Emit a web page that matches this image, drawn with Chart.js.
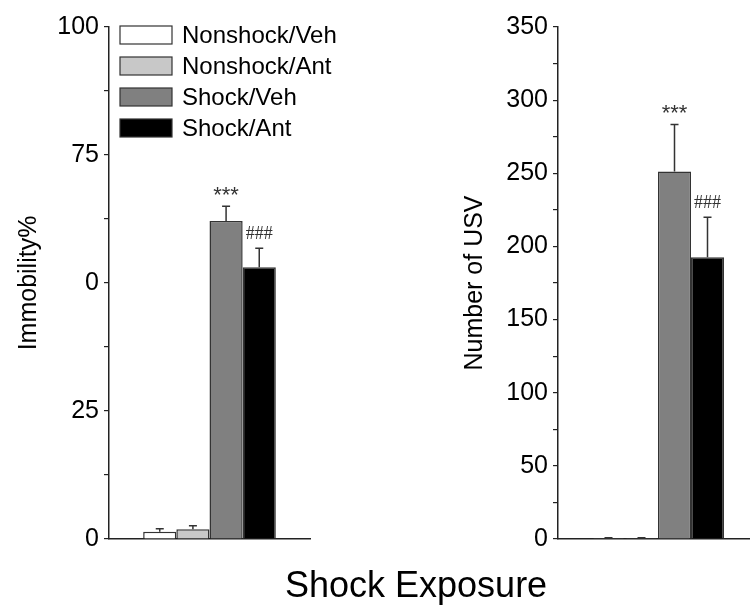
<!DOCTYPE html>
<html>
<head>
<meta charset="utf-8">
<script src="https://cdn.jsdelivr.net/npm/chart.js@4.4.1/dist/chart.umd.min.js"></script>
<style>
  html, body { margin: 0; padding: 0; background: #fff; overflow: hidden; }
  body { width: 750px; height: 611px; position: relative; }
  #leftChart { position: absolute; left: 10px; top: 0; }
  #rightChart { position: absolute; left: 456px; top: 0; }
  #xTitle { position: absolute; left: 285px; top: 567px; font: 36px "Liberation Sans", Arial, sans-serif; line-height: 36px; white-space: nowrap; color: #000; }
</style>
</head>
<body>
<canvas id="leftChart" width="380" height="611"></canvas>
<canvas id="rightChart" width="302" height="611"></canvas>
<div id="xTitle">Shock Exposure</div>
<script>
// groups and values
const groups = ['Nonshock/Veh', 'Nonshock/Ant', 'Shock/Veh', 'Shock/Ant'];
const immobility = [1.4, 1.9, 62.1, 53.1];
const immobilityErr = [0.6, 0.7, 2.9, 3.7];
const usv = [0.5, 0.5, 251.3, 192.6];
const usvErr = [0.3, 0.3, 32.1, 27.3];
const marks = ['', '', '***', '###'];
const leftTickValues = [0, 25, 50, 75, 100];
const leftTickText = ['0', '25', '0', '75', '100'];
const rightTickValues = [0, 50, 100, 150, 200, 250, 300, 350];
const rightTickText = ['0', '50', '100', '150', '200', '250', '300', '350'];

const fills = ['#ffffff', '#c8c8c8', '#808080', '#000000'];
const FONT = '"Liberation Sans", Arial, sans-serif';

function makeDatasets(values, errs) {
    let sets = [];
    for (let i = 0; i < groups.length; i++) {
        sets.push({
            label: groups[i],
            data: [values[i]],
            err: errs[i],
            mark: marks[i],
            backgroundColor: fills[i],
            borderColor: '#333',
            borderWidth: 1.5,
            categoryPercentage: 0.66,
            barPercentage: 1.0
        });
    }
    return sets;
}

// error bars + significance marks
const errorBars = {
    id: 'errorBars',
    afterDatasetsDraw(chart) {
        const c = chart.ctx;
        const yScale = chart.scales.y;
        chart.data.datasets.forEach((ds, i) => {
            const bar = chart.getDatasetMeta(i).data[0];
            const top = yScale.getPixelForValue(ds.data[0] + ds.err);
            c.save();
            c.strokeStyle = '#333';
            c.lineWidth = 1.5;
            c.beginPath();
            c.moveTo(bar.x, bar.y);
            c.lineTo(bar.x, top);
            c.moveTo(bar.x - 4, top);
            c.lineTo(bar.x + 4, top);
            c.stroke();
            if (ds.mark) {
                c.fillStyle = '#333';
                c.textAlign = 'center';
                c.textBaseline = 'bottom';
                c.font = ds.mark === '###' ? '18px "Liberation Serif", serif' : '22px ' + FONT;
                c.fillText(ds.mark, bar.x, ds.mark === '###' ? top - 5 : top + 1);
            }
            c.restore();
        });
    }
};

// legend drawn in the upper left of the plot area
const boxLegend = {
    id: 'boxLegend',
    afterDraw(chart, args, opts) {
        if (!opts.show) return;
        const c = chart.ctx;
        const x0 = chart.chartArea.left + 11;
        const y0 = chart.chartArea.top - 1;
        chart.data.datasets.forEach((ds, i) => {
            const y = y0 + i * 31;
            c.save();
            c.fillStyle = ds.backgroundColor;
            c.fillRect(x0, y, 52, 18);
            c.strokeStyle = '#333';
            c.lineWidth = 1.2;
            c.strokeRect(x0, y, 52, 18);
            c.fillStyle = '#000';
            c.font = '24px ' + FONT;
            c.textBaseline = 'middle';
            c.fillText(ds.label, x0 + 62, y + 10);
            c.restore();
        });
    }
};

function makeChart(id, values, errs, maxV, step, tickValues, tickText, title, yWidth, padRight, showLegend) {
    return new Chart(document.getElementById(id), {
        type: 'bar',
        data: { labels: [''], datasets: makeDatasets(values, errs) },
        options: {
            responsive: false,
            animation: false,
            layout: { padding: { top: 27, bottom: 72, left: 0, right: padRight } },
            plugins: {
                legend: { display: false },
                tooltip: { enabled: false },
                boxLegend: { show: showLegend }
            },
            scales: {
                x: {
                    grid: { display: false },
                    ticks: { display: false },
                    border: { display: true, color: '#222', width: 1.5 },
                    afterFit: s => { s.height = 0; }
                },
                y: {
                    min: 0,
                    max: maxV,
                    afterFit: s => { s.width = yWidth; },
                    ticks: {
                        stepSize: step,
                        color: '#000',
                        padding: 5,
                        font: { family: FONT, size: 25 },
                        callback: v => {
                            const k = tickValues.indexOf(v);
                            return k >= 0 ? tickText[k] : '';
                        }
                    },
                    grid: { drawOnChartArea: false, color: '#222', tickLength: 5, lineWidth: 1.2 },
                    border: { display: true, color: '#222', width: 1.5 },
                    title: {
                        display: true,
                        text: title,
                        color: '#000',
                        font: { family: FONT, size: 25 },
                        padding: { top: 4, bottom: 0 }
                    }
                }
            }
        },
        plugins: [errorBars, boxLegend]
    });
}

makeChart('leftChart', immobility, immobilityErr, 100, 12.5, leftTickValues, leftTickText, 'Immobility%', 99, 80, true);
makeChart('rightChart', usv, usvErr, 350, 25, rightTickValues, rightTickText, 'Number of USV', 102, 0, false);
</script>
</body>
</html>
